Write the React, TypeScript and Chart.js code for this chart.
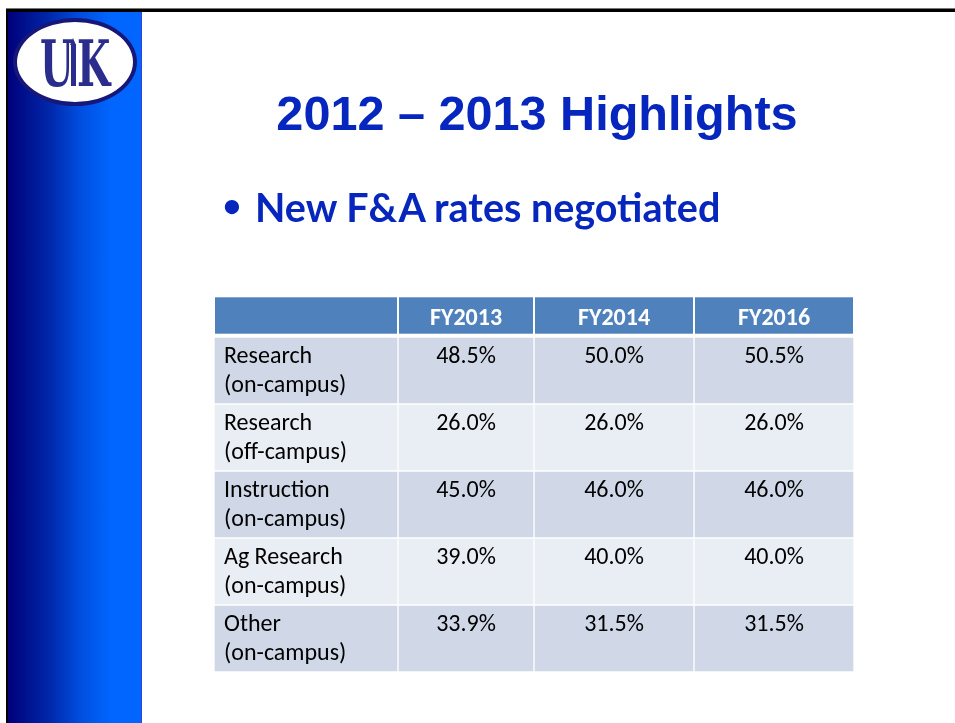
import React, { useEffect, useRef } from 'react';
import { Chart, registerables } from 'chart.js';

Chart.register(...registerables);

// ---- content / data ----
const TITLE = '2012 – 2013 Highlights';
const BULLET = 'New F&A rates negotiated';
const COLUMNS = ['', 'FY2013', 'FY2014', 'FY2016'];
const ROW_LABELS = [
  ['Research', '(on-campus)'],
  ['Research', '(off-campus)'],
  ['Instruction', '(on-campus)'],
  ['Ag Research', '(on-campus)'],
  ['Other', '(on-campus)'],
];
const FY2013 = [48.5, 26.0, 45.0, 39.0, 33.9];
const FY2014 = [50.0, 26.0, 46.0, 40.0, 31.5];
const FY2016 = [50.5, 26.0, 46.0, 40.0, 31.5];

// ---- layout / style (not data) ----
const COL_WIDTHS = [184, 136, 160, 160];
const HEADER_BG = '#4F81BD';
const ROW_BG_ODD = '#D0D8E8';
const ROW_BG_EVEN = '#E9EDF4';
const TABLE_FONT = 'Carlito, Calibri, Lato, sans-serif';
const TITLE_COLOR = '#0626BE';

const VALUE_COLUMNS = [FY2013, FY2014, FY2016];

const tablePlugin = {
  id: 'tableText',
  afterDatasetsDraw(chart: any) {
    const ctx = chart.ctx as CanvasRenderingContext2D;
    const area = chart.chartArea;
    const headerBottom = area.top - 3.3;
    const headerTop = headerBottom - 36.4;
    ctx.save();
    ctx.textBaseline = 'alphabetic';
    // header row
    for (let j = 0; j < COLUMNS.length; j++) {
      const el = chart.getDatasetMeta(j).data[0];
      const { x, base } = el.getProps(['x', 'base'], true);
      const l = Math.min(x, base) + 1;
      const r = Math.max(x, base) - 1;
      ctx.fillStyle = HEADER_BG;
      ctx.fillRect(l, headerTop, r - l, headerBottom - headerTop);
      if (COLUMNS[j]) {
        ctx.fillStyle = '#ffffff';
        ctx.font = `bold 24px ${TABLE_FONT}`;
        ctx.textAlign = 'center';
        ctx.fillText(COLUMNS[j], (l + r) / 2, headerTop + 27.6);
      }
    }
    // body text
    ctx.fillStyle = '#000000';
    ctx.font = `24px ${TABLE_FONT}`;
    for (let j = 0; j < COLUMNS.length; j++) {
      const meta = chart.getDatasetMeta(j);
      meta.data.forEach((el: any, i: number) => {
        const { x, base, y, height } = el.getProps(['x', 'base', 'y', 'height'], true);
        const l = Math.min(x, base) + 1;
        const r = Math.max(x, base) - 1;
        const top = y - height / 2 + 1;
        if (j === 0) {
          ctx.textAlign = 'left';
          ROW_LABELS[i].forEach((line, k) => {
            ctx.fillText(line, l + 9, top + 25 + k * 28.8);
          });
        } else {
          ctx.textAlign = 'center';
          const v = VALUE_COLUMNS[j - 1][i];
          ctx.fillText(v.toFixed(1) + '%', (l + r) / 2, top + 25);
        }
      });
    }
    ctx.restore();
  },
};

export default function App() {
  const canvasRef = useRef<HTMLCanvasElement | null>(null);

  useEffect(() => {
    const canvas = canvasRef.current;
    if (!canvas) return;
    const chart = new Chart(canvas, {
      type: 'bar',
      data: {
        labels: ROW_LABELS.map((l) => l.join(' ')),
        datasets: COLUMNS.map((c, j) => ({
          label: c || 'Category',
          data: ROW_LABELS.map(() => COL_WIDTHS[j]),
          backgroundColor: (ctx: any) => (ctx.dataIndex % 2 === 0 ? ROW_BG_ODD : ROW_BG_EVEN),
          borderColor: '#ffffff',
          borderWidth: 1,
          borderSkipped: false,
          barPercentage: 1,
          categoryPercentage: 1,
        })),
      },
      options: {
        indexAxis: 'y',
        responsive: false,
        maintainAspectRatio: false,
        animation: false,
        layout: { padding: { left: 214, right: 101, top: 337, bottom: 51 } },
        plugins: {
          legend: { display: false },
          tooltip: { enabled: false },
          title: { display: false },
        },
        scales: {
          x: { type: 'linear', min: 0, max: 640, stacked: true, display: false },
          y: { type: 'category', stacked: true, display: false },
        },
      },
      plugins: [tablePlugin],
    } as any);
    return () => chart.destroy();
  }, []);

  return (
    <div
      style={{
        position: 'absolute',
        left: 0,
        top: 0,
        width: 955,
        height: 723,
        background: '#ffffff',
        overflow: 'hidden',
      }}
    >
      {/* top rule */}
      <div style={{ position: 'absolute', left: 6, top: 8, width: 949, height: 1, background: '#777' }} />
      <div style={{ position: 'absolute', left: 6, top: 9, width: 949, height: 3, background: '#000' }} />
      {/* left rule */}
      <div style={{ position: 'absolute', left: 6, top: 9, width: 2, height: 714, background: '#000' }} />
      {/* gradient side bar */}
      <div
        style={{
          position: 'absolute',
          left: 8,
          top: 12,
          width: 133,
          height: 711,
          background: 'linear-gradient(to right, #00007a 0%, #0026a8 30%, #004fe0 55%, #0066ff 78%, #0066ff 100%)',
        }}
      />
      <div style={{ position: 'absolute', left: 141, top: 12, width: 1, height: 711, background: '#3a3fd0' }} />
      {/* logo */}
      <div
        style={{
          position: 'absolute',
          left: 13,
          top: 18,
          width: 124,
          height: 88,
          boxSizing: 'border-box',
          borderRadius: '50%',
          background: '#ffffff',
          border: '4px solid #17177a',
        }}
      />
      <div
        style={{
          position: 'absolute',
          left: 18,
          top: 32,
          width: 110,
          textAlign: 'center',
          fontFamily: '"DejaVu Serif", serif',
          fontWeight: 'bold',
          fontSize: 64,
          lineHeight: '64px',
          letterSpacing: 6,
          color: '#2b2d8c',
          transform: 'scaleX(0.6)',
          transformOrigin: 'center',
          whiteSpace: 'nowrap',
        }}
      >
        UK
      </div>
      {/* spire between the letters */}
      <div
        style={{
          position: 'absolute',
          left: 70,
          top: 44,
          width: 5,
          height: 42,
          background: '#2b2d8c',
          borderLeft: '1px solid #ffffff',
          borderRight: '1px solid #ffffff',
        }}
      />
      <div
        style={{
          position: 'absolute',
          left: 70,
          top: 38,
          width: 0,
          height: 0,
          borderLeft: '3.5px solid transparent',
          borderRight: '3.5px solid transparent',
          borderBottom: '7px solid #2b2d8c',
        }}
      />
      <canvas
        ref={canvasRef}
        width={955}
        height={723}
        style={{ position: 'absolute', left: 0, top: 0, width: 955, height: 723 }}
      />
      {/* title */}
      <div
        style={{
          position: 'absolute',
          left: 187,
          width: 700,
          top: 89,
          textAlign: 'center',
          fontFamily: '"Liberation Sans", Arial, sans-serif',
          fontWeight: 'bold',
          fontSize: 48.6,
          lineHeight: '48.6px',
          color: TITLE_COLOR,
          whiteSpace: 'nowrap',
        }}
      >
        {TITLE}
      </div>
      {/* bullet */}
      <div
        style={{
          position: 'absolute',
          left: 222.5,
          top: 189,
          fontFamily: 'Lato, sans-serif',
          fontWeight: 'bold',
          fontSize: 32.5,
          lineHeight: '32.5px',
          color: TITLE_COLOR,
          whiteSpace: 'nowrap',
        }}
      >
        •
      </div>
      <div
        style={{
          position: 'absolute',
          left: 255,
          top: 186.5,
          fontFamily: 'Lato, sans-serif',
          fontWeight: 'bold',
          fontSize: 39.5,
          lineHeight: '39.5px',
          color: TITLE_COLOR,
          whiteSpace: 'nowrap',
        }}
      >
        {BULLET}
      </div>
    </div>
  );
}
